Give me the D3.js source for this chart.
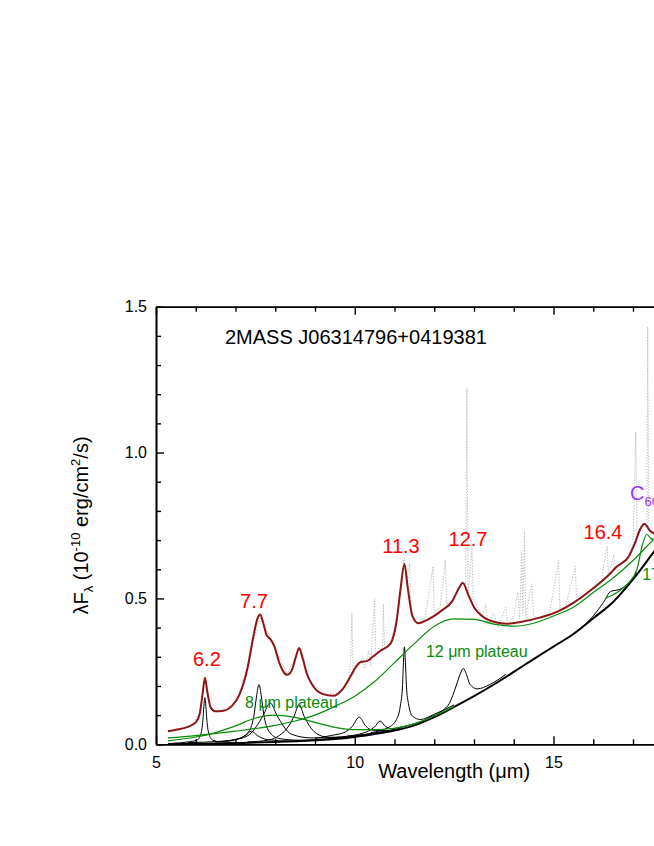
<!DOCTYPE html>
<html>
<head>
<meta charset="utf-8">
<script src="https://cdn.jsdelivr.net/npm/d3@7"></script>
<style>
body { margin: 0; background: #fff; }
svg { display: block; font-family: "Liberation Sans", Arial, sans-serif; }
</style>
</head>
<body>
<svg id="chart" width="654" height="846"></svg>
<script>
// axis ticks
var xMajor = [5, 10, 15];
var xMinor = [6, 7, 8, 9, 11, 12, 13, 14, 16, 17, 18, 19];
var yMajor = [0, 0.5, 1.0, 1.5];
var yMinor = [0.1, 0.2, 0.3, 0.4, 0.6, 0.7, 0.8, 0.9, 1.1, 1.2, 1.3, 1.4];

// observed spectrum (grey dotted), [wavelength, flux]
var observed = [[5.3,0.045],[5.6,0.052],[5.9,0.065],[6.1,0.11],[6.23,0.23],[6.35,0.15],[6.6,0.115],[7.0,0.14],
  [7.3,0.26],[7.6,0.44],[7.9,0.36],[8.3,0.24],[8.6,0.33],[8.9,0.21],[9.3,0.17],[9.6,0.18],[9.85,0.2],[9.9,0.3],
  [9.93,0.45],[9.96,0.24],[10.1,0.27],[10.2,0.3],[10.25,0.26],[10.35,0.32],[10.4,0.27],[10.5,0.5],[10.53,0.3],
  [10.6,0.33],[10.7,0.32],[10.72,0.48],[10.75,0.33],[10.9,0.35],[11.0,0.4],[11.1,0.47],[11.2,0.6],[11.25,0.64],
  [11.3,0.55],[11.38,0.62],[11.42,0.44],[11.6,0.41],[11.7,0.43],[11.75,0.42],[11.97,0.61],[12.0,0.45],[12.15,0.47],
  [12.28,0.63],[12.31,0.48],[12.5,0.5],[12.7,0.56],[12.79,0.55],[12.82,1.22],[12.85,0.52],[12.95,0.67],[12.98,0.5],
  [13.2,0.44],[13.3,0.48],[13.35,0.41],[13.5,0.45],[13.6,0.4],[13.8,0.47],[13.85,0.41],[14.0,0.44],[14.1,0.52],
  [14.15,0.43],[14.2,0.66],[14.23,0.45],[14.27,0.73],[14.3,0.44],[14.45,0.55],[14.5,0.44],[14.7,0.43],[14.9,0.45],
  [15.13,0.63],[15.16,0.46],[15.3,0.47],[15.55,0.61],[15.58,0.49],[15.8,0.51],[16.0,0.54],[16.2,0.56],[16.35,0.68],
  [16.38,0.58],[16.52,0.65],[16.55,0.6],[16.8,0.63],[17.0,0.68],[17.07,1.07],[17.1,0.72],[17.25,0.76],[17.35,0.74],
  [17.37,1.43],[17.4,0.74],[17.6,0.72],[17.8,0.72]];

// total fit (dark red)
var totalFit = [[5.3,0.045],[5.5,0.05],[5.8,0.06],[6.0,0.075],[6.1,0.105],[6.17,0.17],[6.23,0.228],[6.29,0.18],
  [6.38,0.125],[6.5,0.113],[6.7,0.115],[6.9,0.13],[7.1,0.17],[7.3,0.26],[7.45,0.37],[7.55,0.43],[7.62,0.445],
  [7.7,0.415],[7.78,0.375],[7.88,0.36],[7.98,0.335],[8.1,0.28],[8.2,0.25],[8.3,0.238],[8.42,0.255],[8.52,0.3],
  [8.6,0.33],[8.68,0.3],[8.8,0.24],[8.95,0.2],[9.2,0.172],[9.46,0.166],[9.7,0.19],[9.9,0.235],[10.05,0.27],
  [10.15,0.282],[10.3,0.285],[10.45,0.3],[10.64,0.32],[10.9,0.345],[11.05,0.42],[11.15,0.53],[11.25,0.618],
  [11.33,0.54],[11.45,0.44],[11.6,0.415],[11.8,0.425],[12.0,0.44],[12.2,0.46],[12.45,0.49],[12.6,0.53],
  [12.72,0.553],[12.85,0.515],[13.0,0.47],[13.2,0.44],[13.5,0.42],[13.83,0.413],[14.2,0.42],[14.67,0.435],
  [15.1,0.455],[15.5,0.485],[16.0,0.535],[16.35,0.575],[16.6,0.61],[16.9,0.645],[17.05,0.69],[17.19,0.74],
  [17.29,0.755],[17.44,0.73],[17.6,0.72],[17.8,0.73]];

// dust continuum (black, thick)
var continuum = [[5.3,0.001],[6,0.002],[7,0.004],[8,0.008],[9,0.014],[9.5,0.018],[10,0.025],[10.5,0.035],
  [11,0.047],[11.5,0.065],[12,0.093],[12.5,0.128],[13,0.165],[13.5,0.205],[14,0.248],[14.5,0.292],[15,0.335],
  [15.5,0.378],[16,0.432],[16.5,0.488],[17,0.565],[17.5,0.655],[18,0.745]];

// plateau components (green)
var plateau8 = [[5.3,0.012],[6,0.025],[6.5,0.04],[7,0.063],[7.5,0.09],[7.95,0.1],[8.5,0.092],[9,0.075],
  [9.5,0.058],[10,0.05],[10.5,0.05],[11,0.055],[11.5,0.07],[12,0.097],[12.5,0.13]];
var plateau12 = [[5.3,0.022],[6,0.03],[7,0.045],[8,0.065],[8.5,0.08],[9,0.1],[9.5,0.13],[10,0.165],[10.5,0.215],
  [11,0.28],[11.5,0.345],[12,0.405],[12.5,0.43],[13,0.428],[13.5,0.412],[14,0.405],[14.5,0.415],[15,0.44],
  [15.5,0.47],[16,0.52],[16.5,0.57],[17,0.63],[17.5,0.7],[18,0.77]];
var band174 = [[16.3,0.5],[16.6,0.52],[16.9,0.555],[17.1,0.6],[17.25,0.69],[17.35,0.72],[17.45,0.705],
  [17.6,0.7],[17.8,0.73]];

// PAH features (black thin)
var pah62 = [[5.4,0.003],[5.8,0.008],[6.03,0.014],[6.13,0.036],[6.18,0.083],[6.205,0.13],[6.23,0.16],
  [6.255,0.13],[6.28,0.083],[6.33,0.036],[6.43,0.014],[6.65,0.008],[7.2,0.006]];
var pah74 = [[6.5,0.008],[7.0,0.016],[7.25,0.03],[7.4,0.045],[7.55,0.03],[7.8,0.016],[8.4,0.011],[9.5,0.019]];
var pah76 = [[5.8,0.006],[6.6,0.01],[7.09,0.02],[7.34,0.045],[7.47,0.104],[7.53,0.165],[7.59,0.205],
  [7.65,0.165],[7.71,0.104],[7.84,0.045],[8.09,0.02],[8.6,0.014],[9.5,0.021],[11,0.05]];
var pah79 = [[6.5,0.008],[7.0,0.016],[7.35,0.033],[7.52,0.06],[7.7,0.1],[7.87,0.142],[8.04,0.1],[8.22,0.06],
  [8.4,0.035],[8.9,0.022],[9.7,0.024],[10.5,0.038]];
var pah86 = [[7.3,0.008],[7.85,0.015],[8.1,0.03],[8.35,0.065],[8.47,0.095],[8.6,0.136],[8.73,0.095],
  [8.85,0.065],[9.1,0.032],[9.35,0.024],[10.0,0.03],[11,0.05]];
var pah101 = [[9.0,0.02],[9.4,0.03],[9.76,0.042],[9.94,0.062],[10.11,0.093],[10.28,0.062],[10.46,0.048],
  [10.8,0.047],[11.2,0.058]];
var pah106 = [[9.8,0.028],[10.2,0.038],[10.35,0.046],[10.5,0.06],[10.64,0.08],[10.78,0.06],[10.93,0.054],
  [11.3,0.063],[11.8,0.085]];
var pah113 = [[10.4,0.04],[10.85,0.058],[11.05,0.085],[11.15,0.135],[11.2,0.196],[11.225,0.28],[11.25,0.334],
  [11.275,0.28],[11.3,0.2],[11.35,0.14],[11.45,0.097],[11.65,0.085],[12.0,0.103],[12.5,0.135]];
var pah127 = [[11.8,0.09],[12.2,0.115],[12.38,0.14],[12.55,0.2],[12.65,0.24],[12.73,0.26],[12.81,0.24],
  [12.9,0.205],[13.08,0.19],[13.4,0.205],[13.8,0.24]];
var pah164 = [[15.7,0.4],[16.0,0.44],[16.25,0.485],[16.45,0.525],[16.65,0.53],[16.85,0.548],[17.1,0.59]];

// annotations: [text, wavelength, flux]
var bandLabels = [["6.2", 6.28, 0.27], ["7.7", 7.465, 0.467], ["11.3", 11.164, 0.656],
  ["12.7", 12.849, 0.68], ["16.4", 16.245, 0.704]];
var plateauLabels = [["8 \u03bcm plateau", 7.24, 0.124], ["12 \u03bcm plateau", 11.79, 0.299], ["17.4", 17.23, 0.563]];
var objectName = ["2MASS J06314796+0419381", 6.736, 1.372];
var c60Label = [16.925, 0.838];

var svg = d3.select('#chart');

var x = d3.scaleLinear().domain([5, 20]).range([156, 752.25]);
var y = d3.scaleLinear().domain([0, 1.5]).range([744.3, 306.7]);

var line = d3.line()
  .x(function(d) { return x(d[0]); })
  .y(function(d) { return y(d[1]); })
  .curve(d3.curveMonotoneX);

var plot = svg.append('g');

plot.append('path')
  .attr('d', d3.line().x(function(d) { return x(d[0]); }).y(function(d) { return y(d[1]); })(observed))
  .style('fill', 'none')
  .style('stroke', '#b8b8b8')
  .style('stroke-width', 1)
  .style('stroke-dasharray', '1.2,1.6');

[pah62, pah74, pah76, pah79, pah86, pah101, pah106, pah113, pah127, pah164].forEach(function(s) {
  plot.append('path')
    .attr('d', line(s))
    .style('fill', 'none')
    .style('stroke', '#000')
    .style('stroke-width', 1);
});

plot.append('path')
  .attr('d', line(continuum))
  .style('fill', 'none')
  .style('stroke', '#000')
  .style('stroke-width', 2);

[plateau8, plateau12, band174].forEach(function(s) {
  plot.append('path')
    .attr('d', line(s))
    .style('fill', 'none')
    .style('stroke', '#0a8a0a')
    .style('stroke-width', 1.2);
});

plot.append('path')
  .attr('d', line(totalFit))
  .style('fill', 'none')
  .style('stroke', '#8c1616')
  .style('stroke-width', 2);

// axes, ticks inward
function styleAxis(g) {
  g.select('.domain').style('stroke-width', 1.6);
  g.selectAll('.tick line').style('stroke-width', 1.4);
  g.selectAll('.tick text').style('font-family', '"Liberation Sans", Arial, sans-serif').style('font-size', '16px').style('fill', '#000');
}

svg.append('g')
  .attr('transform', 'translate(0,' + y(0) + ')')
  .call(d3.axisBottom(x).tickValues(xMajor).tickFormat(d3.format('d')).tickSize(-8).tickSizeOuter(0).tickPadding(12))
  .call(styleAxis);
svg.append('g')
  .attr('transform', 'translate(0,' + y(0) + ')')
  .call(d3.axisBottom(x).tickValues(xMinor).tickFormat('').tickSize(-5).tickSizeOuter(0))
  .call(styleAxis);
svg.append('g')
  .attr('transform', 'translate(0,' + y(1.5) + ')')
  .call(d3.axisTop(x).tickValues(xMajor).tickFormat('').tickSize(-8).tickSizeOuter(0))
  .call(styleAxis);
svg.append('g')
  .attr('transform', 'translate(0,' + y(1.5) + ')')
  .call(d3.axisTop(x).tickValues(xMinor).tickFormat('').tickSize(-5).tickSizeOuter(0))
  .call(styleAxis);
svg.append('g')
  .attr('transform', 'translate(' + x(5) + ',0)')
  .call(d3.axisLeft(y).tickValues(yMajor).tickFormat(d3.format('.1f')).tickSize(-8).tickSizeOuter(0).tickPadding(9))
  .call(styleAxis);
svg.append('g')
  .attr('transform', 'translate(' + x(5) + ',0)')
  .call(d3.axisLeft(y).tickValues(yMinor).tickFormat('').tickSize(-5).tickSizeOuter(0))
  .call(styleAxis);
svg.append('g')
  .attr('transform', 'translate(' + x(20) + ',0)')
  .call(d3.axisRight(y).tickValues(yMajor).tickFormat('').tickSize(-8).tickSizeOuter(0))
  .call(styleAxis);

// axis titles
svg.append('text')
  .attr('x', (x(5) + x(20)) / 2)
  .attr('y', 778)
  .attr('text-anchor', 'middle')
  .style('font-size', '20px')
  .text('Wavelength (\u03bcm)');

var yt = svg.append('text')
  .attr('transform', 'translate(88,' + (y(0) + y(1.5)) / 2 + ') rotate(-90)')
  .attr('text-anchor', 'middle')
  .style('font-size', '20px');
yt.append('tspan').text('\u03bbF');
yt.append('tspan').attr('dy', 5).style('font-size', '13px').text('\u03bb');
yt.append('tspan').attr('dy', -5).text(' (10');
yt.append('tspan').attr('dy', -8).style('font-size', '13px').text('-10');
yt.append('tspan').attr('dy', 8).text(' erg/cm');
yt.append('tspan').attr('dy', -8).style('font-size', '13px').text('2');
yt.append('tspan').attr('dy', 8).text('/s)');

// annotations
svg.append('text')
  .attr('x', x(objectName[1]))
  .attr('y', y(objectName[2]))
  .style('font-size', '20px')
  .text(objectName[0]);

svg.selectAll('.band-label')
  .data(bandLabels)
  .enter()
  .append('text')
  .attr('x', function(d) { return x(d[1]); })
  .attr('y', function(d) { return y(d[2]); })
  .attr('text-anchor', 'middle')
  .style('font-size', '20px')
  .style('fill', '#ff0000')
  .text(function(d) { return d[0]; });

svg.selectAll('.plateau-label')
  .data(plateauLabels)
  .enter()
  .append('text')
  .attr('x', function(d) { return x(d[1]); })
  .attr('y', function(d) { return y(d[2]); })
  .style('font-size', '16px')
  .style('fill', '#0a8a0a')
  .text(function(d) { return d[0]; });

var c60 = svg.append('text')
  .attr('x', x(c60Label[0]))
  .attr('y', y(c60Label[1]))
  .style('font-size', '20px')
  .style('fill', '#9933ff');
c60.append('tspan').text('C');
c60.append('tspan').attr('dy', 6).style('font-size', '13px').text('60');
</script>
</body>
</html>
